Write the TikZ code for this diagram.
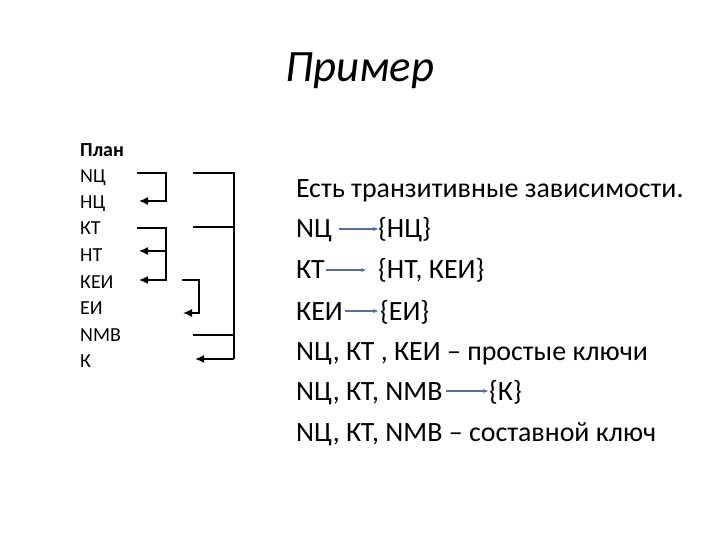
\documentclass[tikz,border=0pt]{standalone}
\usepackage{fontspec}
\setmainfont{Carlito}
\usetikzlibrary{arrows.meta}
\definecolor{depblue}{RGB}{84,112,160}

\begin{document}
\begin{tikzpicture}[x=1bp,y=-1bp,
    lst/.style={anchor=base west,inner sep=0pt,font=\fontsize{20}{22}\selectfont},
    txt/.style={anchor=base west,inner sep=0pt,text height=18bp,text depth=0pt,font=\fontsize{28}{31}\selectfont},
    brk/.style={line width=1.3bp},
    brkarrow/.style={line width=1.3bp,-{Latex[length=9bp,width=8bp]}},
    dep/.style={draw=depblue,line width=1.3bp,-{Stealth[length=5bp,width=4bp]}}]
    \useasboundingbox (0,0) rectangle (720,540);

    \node[font=\fontsize{45}{52}\selectfont\itshape,anchor=base,inner sep=0pt] (title) at (360,82) {Пример};

    % plan
    \node[lst,font=\fontsize{20}{22}\selectfont\bfseries] (plan) at (80,157) {План};
    \node[lst] (nc) at (80,183) {NЦ};
    \node[lst] (hc) at (80,209) {НЦ};
    \node[lst] (kt) at (80,235) {КТ};
    \node[lst] (ht) at (80,262) {НТ};
    \node[lst] (kei) at (80,288) {КЕИ};
    \node[lst] (ei) at (80,314) {ЕИ};
    \node[lst] (nmb) at (80,341) {NМВ};
    \node[lst] (k) at (80,367) {К};

    \coordinate (b1s) at (137,173);
    \coordinate (b1e) at (139,201);
    \coordinate (b2s) at (137,228);
    \coordinate (b2j) at (166,251);
    \coordinate (b2m) at (139,251);
    \coordinate (b2e) at (139,280);
    \coordinate (b3s) at (182,280);
    \coordinate (b3e) at (183,313);
    \coordinate (b4a) at (193,173);
    \coordinate (b4b) at (193,227);
    \coordinate (b4c) at (193,335);
    \coordinate (b4e) at (195,359);

    \draw[brkarrow] (b1s) -- ++(29,0) |- (b1e);
    \draw[brkarrow] (b2s) -- ++(29,0) |- (b2e);
    \draw[brkarrow] (b2j) -- (b2m);
    \draw[brkarrow] (b3s) -- ++(17,0) |- (b3e);
    \draw[brk,line width=1.6bp] (b4a) -- ++(41,0) -- ++(0,186);
    \draw[brk] (b4b) -- ++(41,0);
    \draw[brk] (b4c) -- ++(41,0);
    \draw[brkarrow,line width=2.6bp] (b4e) ++(39,0) -- (b4e);

    % dependencies
    \node[txt] (r1) at (296,198) {Есть транзитивные зависимости.};
    \node[txt] (r2a) at (296,238) {NЦ};
    \node[txt] (r2b) at (378,238) {\{НЦ\}};
    \node[txt] (r3a) at (296,279) {КТ};
    \node[txt] (r3b) at (378,279) {\{НТ, КЕИ\}};
    \node[txt] (r4a) at (296,320) {КЕИ};
    \node[txt] (r4b) at (380,320) {\{ЕИ\}};
    \node[txt] (r5) at (296,360) {NЦ, КТ , КЕИ -- простые ключи};
    \node[txt] (r6a) at (296,400) {NЦ, КТ, NМВ};
    \node[txt] (r6b) at (489,400) {\{К\}};
    \node[txt] (r7) at (296,441) {NЦ, КТ, NМВ -- составной ключ};

    \draw[dep,shorten <=7bp] (r2a) -- (r2b);
    \draw[dep,shorten <=1bp,shorten >=12bp] (r3a) -- (r3b);
    \draw[dep,shorten <=2bp,shorten >=2bp] (r4a) -- (r4b);
    \draw[dep,shorten <=3bp,shorten >=1bp] (r6a) -- (r6b);
\end{tikzpicture}
\end{document}
